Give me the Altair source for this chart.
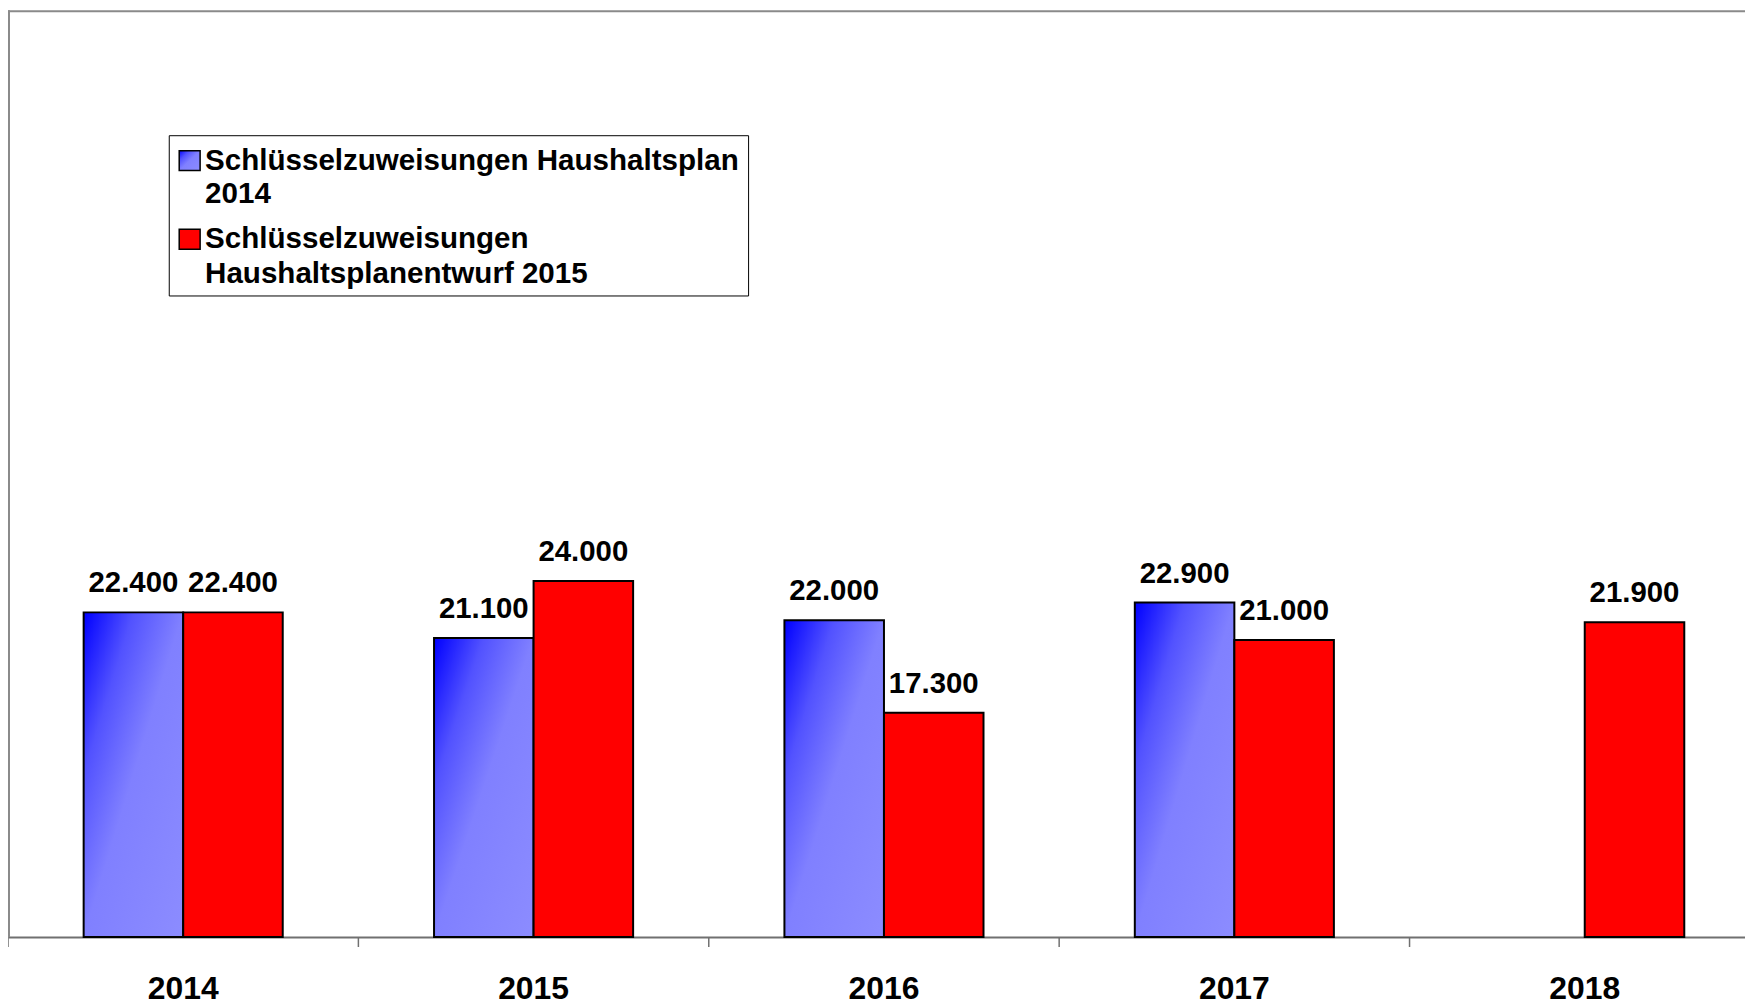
import altair as alt
import pandas as pd

# ---------------- data ----------------
years = ["2014", "2015", "2016", "2017", "2018"]
series_names = [
    "Schlüsselzuweisungen Haushaltsplan 2014",
    "Schlüsselzuweisungen Haushaltsplanentwurf 2015",
]
plan_2014 = [22400, 21100, 22000, 22900, None]
entwurf_2015 = [22400, 24000, 17300, 21000, 21900]
legend_lines = [
    ["Schlüsselzuweisungen Haushaltsplan", "2014"],
    ["Schlüsselzuweisungen", "Haushaltsplanentwurf 2015"],
]

rows = []
for name, vals in zip(series_names, [plan_2014, entwurf_2015]):
    for yr, v in zip(years, vals):
        if v is not None:
            rows.append({"year": yr, "series": name, "value": v,
                         "label": f"{v:,}".replace(",", ".")})
df = pd.DataFrame(rows)

# ---------------- layout / style ----------------
W, H = 1760, 931
VISIBLE_W = 1745
Y_MIN, Y_MAX = 5900, 53000
FONT = "Liberation Sans"
one = pd.DataFrame({"k": [0]})

blue_grad = alt.Gradient(
    gradient="linear", x1=0, y1=0, x2=1, y2=1,
    stops=[alt.GradientStop(color="#0000ff", offset=0),
           alt.GradientStop(color="#5252ff", offset=0.25),
           alt.GradientStop(color="#8080ff", offset=0.5),
           alt.GradientStop(color="#8c8cff", offset=1)],
)

x_axis = alt.Axis(title=None, ticks=False, tickSize=0, labelAngle=0,
                  labelFont=FONT, labelFontSize=32, labelFontWeight="bold",
                  labelColor="black", labelPadding=62, labelBaseline="alphabetic",
                  domainColor="#707070", domainWidth=2, grid=False)
x_scale = alt.Scale(domain=years, paddingInner=0, paddingOuter=0)


def x_enc(band_pos=None):
    if band_pos is None:
        return alt.X("year:N", scale=x_scale, axis=x_axis)
    return alt.X("year:N", scale=x_scale, axis=x_axis, bandPosition=band_pos)


xoff = alt.XOffset("series:N",
                   scale=alt.Scale(domain=series_names, paddingInner=0, paddingOuter=0.76))
y_enc = alt.Y("value:Q", scale=alt.Scale(domain=[Y_MIN, Y_MAX], zero=False, nice=False), axis=None)

base = alt.Chart(df)

blue_bars = base.transform_filter(alt.datum.series == series_names[0]).mark_bar(
    fill=blue_grad, stroke="black", strokeWidth=2
).encode(x=x_enc(), xOffset=xoff, y=y_enc, y2=alt.datum(Y_MIN))

red_bars = base.transform_filter(alt.datum.series == series_names[1]).mark_bar(
    fill="#ff0000", stroke="black", strokeWidth=2
).encode(x=x_enc(), xOffset=xoff, y=y_enc, y2=alt.datum(Y_MIN))

labels = base.mark_text(
    baseline="alphabetic", align="center", dy=-20, font=FONT, fontSize=29.5,
    fontWeight="bold", color="black"
).encode(x=x_enc(), xOffset=xoff, y=y_enc, text="label:N")

ticks = alt.Chart(pd.DataFrame({"year": years})).mark_rule(
    color="#707070", strokeWidth=1.5
).encode(x=x_enc(0), y=alt.value(H), y2=alt.value(H + 10))

top_border = alt.Chart(one).mark_rule(color="#8a8a8a", strokeWidth=2).encode(
    x=alt.value(0), x2=alt.value(W), y=alt.value(1))
left_border = alt.Chart(one).mark_rule(color="#8a8a8a", strokeWidth=2).encode(
    x=alt.value(1), y=alt.value(0), y2=alt.value(H))

# ---------------- legend ----------------
leg_box = alt.Chart(one).mark_rect(fill="white", stroke="black", strokeWidth=1).encode(
    x=alt.value(162), x2=alt.value(744), y=alt.value(126), y2=alt.value(287))
leg_sym1 = alt.Chart(one).mark_rect(fill=blue_grad, stroke="black", strokeWidth=1.5).encode(
    x=alt.value(172), x2=alt.value(193), y=alt.value(141), y2=alt.value(161))
leg_sym2 = alt.Chart(one).mark_rect(fill="#ff0000", stroke="black", strokeWidth=1.5).encode(
    x=alt.value(172), x2=alt.value(193), y=alt.value(220), y2=alt.value(240))

leg_texts = []
baselines = [[160, 194], [239, 274]]
for lines, bls in zip(legend_lines, baselines):
    for txt, bl in zip(lines, bls):
        leg_texts.append(
            alt.Chart(one).mark_text(align="left", baseline="alphabetic", font=FONT,
                                     fontSize=29.7, fontWeight="bold", color="black").encode(
                x=alt.value(198), y=alt.value(bl), text=alt.value(txt))
        )

chart = alt.layer(
    top_border, left_border, blue_bars, red_bars, labels, ticks,
    leg_box, leg_sym1, leg_sym2, *leg_texts
).properties(
    width=W, height=H,
    autosize=alt.AutoSizeParams(type="none"),
    padding={"left": 0, "top": 0, "right": VISIBLE_W - W, "bottom": 68},
    background="white",
).configure_view(stroke=None)

chart.save("out.html", embed_options={"renderer": "svg", "actions": False})
